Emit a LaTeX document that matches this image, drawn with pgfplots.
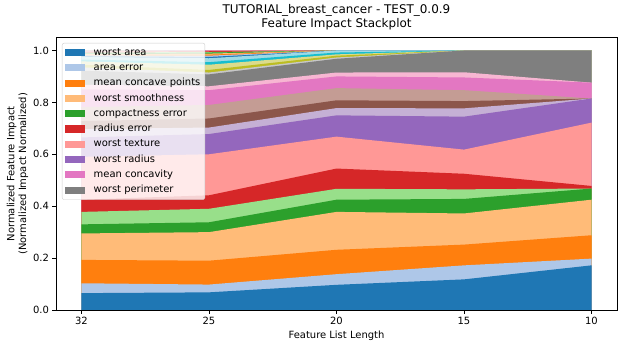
\documentclass[border=0pt]{standalone}
\usepackage{fontspec}
\setmainfont{DejaVu Sans}
\usepackage{pgfplots}
\usepackage{pgfplotstable}
\pgfplotsset{compat=1.18}

\definecolor{s1}{HTML}{1F77B4}
\definecolor{s2}{HTML}{AEC7E8}
\definecolor{s3}{HTML}{FF7F0E}
\definecolor{s4}{HTML}{FFBB78}
\definecolor{s5}{HTML}{2CA02C}
\definecolor{s6}{HTML}{98DF8A}
\definecolor{s7}{HTML}{D62728}
\definecolor{s8}{HTML}{FF9896}
\definecolor{s9}{HTML}{9467BD}
\definecolor{s10}{HTML}{C5B0D5}
\definecolor{s11}{HTML}{8C564B}
\definecolor{s12}{HTML}{C49C94}
\definecolor{s13}{HTML}{E377C2}
\definecolor{s14}{HTML}{F7B6D2}
\definecolor{s15}{HTML}{7F7F7F}
\definecolor{s16}{HTML}{C7C7C7}
\definecolor{s17}{HTML}{BCBD22}
\definecolor{s18}{HTML}{DBDB8D}
\definecolor{s19}{HTML}{17BECF}
\definecolor{s20}{HTML}{9EDAE5}
\definecolor{s21}{HTML}{1F77B4}
\definecolor{s22}{HTML}{AEC7E8}
\definecolor{s23}{HTML}{FF7F0E}
\definecolor{s24}{HTML}{FFBB78}
\definecolor{s25}{HTML}{2CA02C}
\definecolor{s26}{HTML}{98DF8A}
\definecolor{s27}{HTML}{D62728}
\definecolor{s28}{HTML}{FF9896}
\definecolor{s29}{HTML}{9467BD}
\definecolor{s30}{HTML}{C5B0D5}
\definecolor{s31}{HTML}{8C564B}
\definecolor{s32}{HTML}{C49C94}
\definecolor{legedge}{HTML}{CCCCCC}

% cumulative (stacked) tops of each layer; x index 0..4 = list length 32,25,20,15,10
\pgfplotstableread{
x c1 c2 c3 c4 c5 c6 c7 c8 c9 c10 c11 c12 c13 c14 c15 c16 c17 c18 c19 c20 c21 c22 c23 c24 c25 c26 c27 c28 c29 c30 c31 c32
0 0.065 0.103 0.193 0.295 0.330 0.378 0.425 0.590 0.665 0.697 0.728 0.782 0.850 0.868 0.922 0.935 0.945 0.958 0.965 0.975 0.978 0.981 0.983 0.986 0.989 0.992 0.994 0.996 0.997 0.998 0.999 1.000
1 0.068 0.098 0.190 0.300 0.338 0.390 0.442 0.600 0.678 0.703 0.738 0.790 0.847 0.862 0.908 0.915 0.925 0.945 0.955 0.970 0.975 0.980 0.984 0.988 0.992 0.994 0.997 1.000 1.000 1.000 1.000 1.000
2 0.097 0.138 0.232 0.378 0.425 0.467 0.545 0.668 0.750 0.778 0.808 0.855 0.900 0.915 0.968 0.973 0.980 0.985 0.992 1.000 1.000 1.000 1.000 1.000 1.000 1.000 1.000 1.000 1.000 1.000 1.000 1.000
3 0.118 0.172 0.252 0.372 0.428 0.465 0.525 0.618 0.745 0.777 0.805 0.847 0.896 0.916 1.000 1.000 1.000 1.000 1.000 1.000 1.000 1.000 1.000 1.000 1.000 1.000 1.000 1.000 1.000 1.000 1.000 1.000
4 0.172 0.198 0.288 0.425 0.468 0.468 0.478 0.722 0.815 0.815 0.815 0.815 0.876 0.876 1.000 1.000 1.000 1.000 1.000 1.000 1.000 1.000 1.000 1.000 1.000 1.000 1.000 1.000 1.000 1.000 1.000 1.000
}\data

\begin{document}
\begin{tikzpicture}
\useasboundingbox (-56bp,-38bp) rectangle (564bp,310bp);
\begin{axis}[
  scale only axis, width=561bp, height=272.5bp,
  xmin=-0.2, xmax=4.2, ymin=0, ymax=1.05,
  xtick={0,1,2,3,4}, xticklabels={32,25,20,15,10},
  ytick={0,0.2,0.4,0.6,0.8,1.0},
  yticklabel style={/pgf/number format/.cd, fixed, fixed zerofill, precision=1},
  /pgf/number format/assume math mode=true,
  tick align=outside, tick pos=left,
  major tick length=3.5bp,
  every tick/.style={black, line width=0.8bp},
  axis line style={line width=0.8bp},
  axis on top,
  tick label style={font=\fontsize{10}{12}\selectfont},
  label style={font=\fontsize{10}{12}\selectfont},
  xlabel={Feature List Length},
  ylabel={Normalized Feature Impact\\(Normalized Impact Normalized)},
  ylabel style={align=center},
  ylabel shift=-2bp,
  title={TUTORIAL\_breast\_cancer - TEST\_0.0.9\\Feature Impact Stackplot},
  title style={align=center, font=\fontsize{12}{14.5}\selectfont, yshift=-2bp},
  legend cell align=left,
  legend image code/.code={
    \path[draw=none, fill=none] (0bp,-3.5bp) rectangle (27bp,3.5bp);
    \fill[#1, draw=none, sharp corners, fill opacity=1] (0bp,-3.5bp) rectangle (20bp,3.5bp);},
  legend style={at={(0.0107,0.98)}, anchor=north west,
    fill=white, fill opacity=0.8, text opacity=1, draw=legedge, rounded corners=2bp,
    font=\fontsize{10}{12}\selectfont, inner sep=3bp,
    row sep=2.6bp,
    nodes={inner sep=1.5bp, text height=7.5bp, text depth=2.2bp}},
]
\pgfplotsinvokeforeach{32,31,...,1}{
  \addplot[fill=s#1, draw=none, forget plot] table[x=x, y=c#1] {\data} \closedcycle;
}
\addlegendimage{fill=s1, draw=none}\addlegendentry{worst area}
\addlegendimage{fill=s2, draw=none}\addlegendentry{area error}
\addlegendimage{fill=s3, draw=none}\addlegendentry{mean concave points}
\addlegendimage{fill=s4, draw=none}\addlegendentry{worst smoothness}
\addlegendimage{fill=s5, draw=none}\addlegendentry{compactness error}
\addlegendimage{fill=s7, draw=none}\addlegendentry{radius error}
\addlegendimage{fill=s8, draw=none}\addlegendentry{worst texture}
\addlegendimage{fill=s9, draw=none}\addlegendentry{worst radius}
\addlegendimage{fill=s13, draw=none}\addlegendentry{mean concavity}
\addlegendimage{fill=s15, draw=none}\addlegendentry{worst perimeter}
\end{axis}
\end{tikzpicture}
\end{document}
